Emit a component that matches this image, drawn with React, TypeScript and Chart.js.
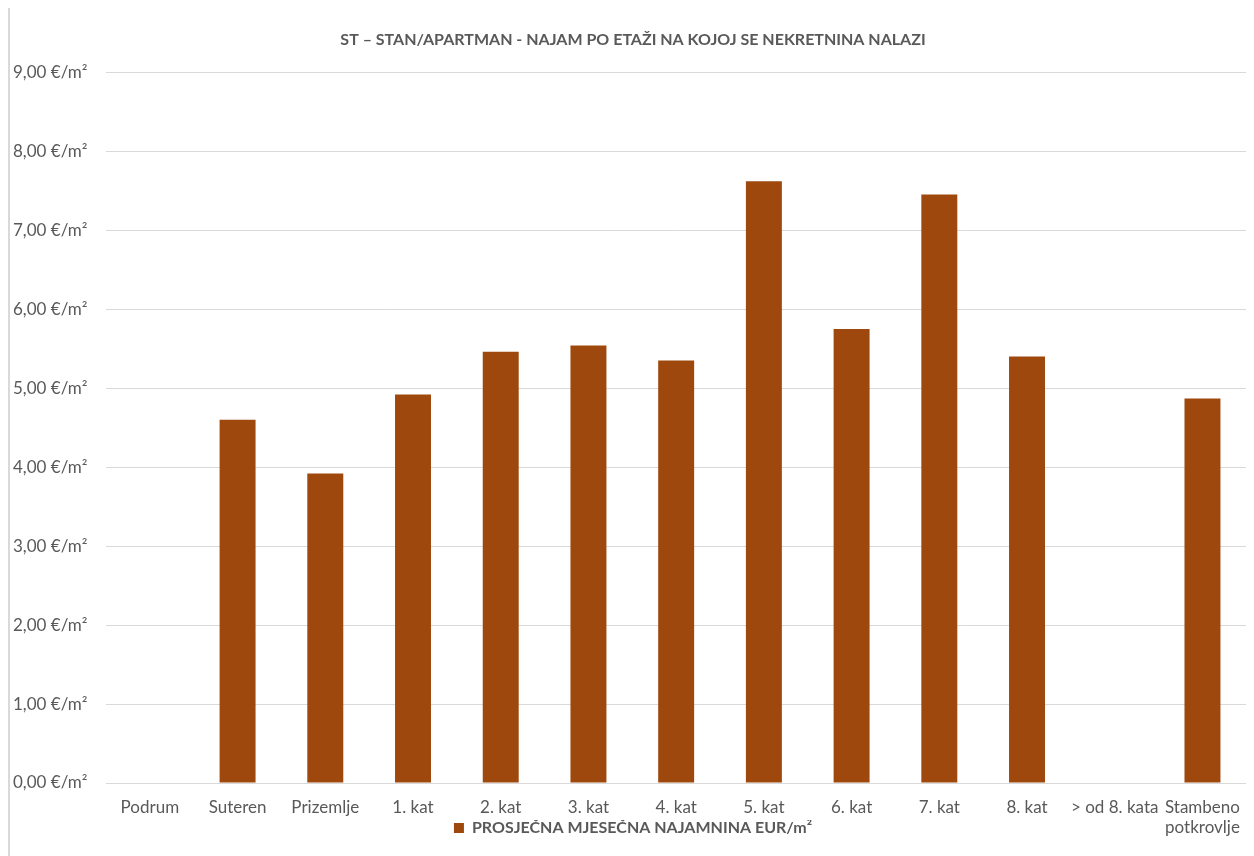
import React, { useEffect, useRef } from "react";
import { Chart, registerables } from "chart.js";

Chart.register(...registerables);

const TITLE = "ST – STAN/APARTMAN - NAJAM PO ETAŽI NA KOJOJ SE NEKRETNINA NALAZI";
const SERIES_LABEL = "PROSJEČNA MJESEČNA NAJAMNINA EUR/m²";
const categories: (string | string[])[] = [
  "Podrum",
  "Suteren",
  "Prizemlje",
  "1. kat",
  "2. kat",
  "3. kat",
  "4. kat",
  "5. kat",
  "6. kat",
  "7. kat",
  "8. kat",
  "> od 8. kata",
  ["Stambeno", "potkrovlje"],
];
const values: (number | null)[] = [null, 4.6, 3.92, 4.92, 5.46, 5.54, 5.35, 7.62, 5.75, 7.45, 5.4, null, 4.87];
const yTicks = [0, 1, 2, 3, 4, 5, 6, 7, 8, 9];

const FONT = "Lato, 'Open Sans', sans-serif";
const TEXT = "#595959";
const GRID = "#d9d9d9";
const BAR = "#9E480E";

const legendShift = {
  id: "legendShift",
  afterLayout(chart: any) {
    const lg = chart.legend;
    if (!lg) return;
    const h = lg.bottom - lg.top;
    lg.top = 812;
    lg.bottom = 812 + h;
  },
};

export default function App() {
  const ref = useRef<HTMLCanvasElement | null>(null);
  useEffect(() => {
    if (!ref.current) return;
    const chart = new Chart(ref.current, {
      type: "bar",
      data: {
        labels: categories,
        datasets: [
          {
            label: SERIES_LABEL,
            data: values,
            backgroundColor: BAR,
            borderWidth: 0,
            barPercentage: 0.41,
            categoryPercentage: 1,
          },
        ],
      },
      plugins: [legendShift],
      options: {
        responsive: false,
        animation: false,
        layout: { padding: { left: 3, right: 1, top: 0, bottom: -11 } },
        plugins: {
          title: {
            display: true,
            text: TITLE,
            color: TEXT,
            font: { family: FONT, size: 16, weight: "bold" },
            padding: { top: 22, bottom: 23 },
          },
          legend: {
            position: "bottom",
            labels: {
              color: TEXT,
              boxWidth: 10,
              boxHeight: 10,
              padding: 0,
              font: { family: FONT, size: 16, weight: "bold" },
            },
          },
          tooltip: { enabled: false },
        },
        scales: {
          x: {
            grid: { display: false, drawTicks: false },
            border: { display: true, color: GRID },
            ticks: {
              color: TEXT,
              font: { family: FONT, size: 17 },
              maxRotation: 0,
              autoSkip: false,
              padding: 14,
            },
            afterFit: (scale: any) => {
              scale.height = 58;
            },
          },
          y: {
            min: 0,
            max: 9,
            afterBuildTicks: (scale: any) => {
              scale.ticks = yTicks.map((v) => ({ value: v }));
            },
            grid: { color: GRID, drawTicks: false },
            border: { display: false },
            ticks: {
              color: TEXT,
              font: { family: FONT, size: 17 },
              crossAlign: "far",
              padding: 0,
              callback: (v: any) => Number(v).toFixed(2).replace(".", ",") + " €/m²",
            },
            afterFit: (scale: any) => {
              scale.width = 93;
            },
          },
        },
      },
    });
    return () => chart.destroy();
  }, []);
  return (
    <div
      style={{
        width: 1246,
        height: 850,
        marginTop: -2,
        borderLeft: `2px solid ${GRID}`,
        borderTop: `2px solid ${GRID}`,
        background: "#fff",
        overflow: "hidden",
      }}
    >
      <canvas ref={ref} width={1244} height={848} style={{ display: "block" }} />
    </div>
  );
}
